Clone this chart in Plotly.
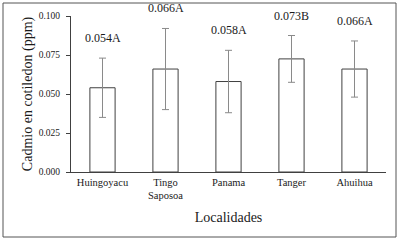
import plotly.graph_objects as go

categories = ["Huingoyacu", "Tingo<br>Saposoa", "Panama", "Tanger", "Ahuihua"]
means = [0.054, 0.066, 0.058, 0.0725, 0.066]
errors = [0.019, 0.026, 0.020, 0.015, 0.018]
labels = ["0.054A", "0.066A", "0.058A", "0.073B", "0.066A"]
y_ticks = [0.0, 0.025, 0.05, 0.075, 0.1]
y_ticktext = ["0.000", "0.025", "0.050", "0.075", "0.100"]

FONT = "Liberation Serif"
AXIS = "#404040"
TXT = "#1a1a1a"

fig = go.Figure()
fig.add_trace(go.Bar(
    x=categories, y=means,
    width=0.4,
    marker=dict(color="white", line=dict(color=AXIS, width=1)),
    error_y=dict(type="data", array=errors, visible=True,
                 color="#8a8a8a", thickness=1, width=3.5),
    showlegend=False,
    hoverinfo="skip",
))

for c, m, e, t in zip(categories, means, errors, labels):
    fig.add_annotation(x=c, y=m + e, text=t, showarrow=False,
                       yanchor="bottom", yshift=11,
                       font=dict(family=FONT, size=12, color=TXT))

# outer frame
fig.add_shape(type="rect", xref="paper", yref="paper",
              x0=(3 - 71) / 315, x1=(396 - 71) / 315,
              y0=(172 - 237) / 156, y1=(172 - 3) / 156,
              line=dict(color="#555555", width=1), fillcolor="rgba(0,0,0,0)")

fig.update_layout(
    width=401, height=241,
    margin=dict(l=71, r=15, t=16, b=69, autoexpand=False),
    paper_bgcolor="white", plot_bgcolor="white",
    font=dict(family=FONT, color=TXT),
    xaxis=dict(
        showline=True, linecolor=AXIS, linewidth=1, ticks="",
        tickfont=dict(family=FONT, size=10.5, color=TXT),
        title=dict(text="Localidades", font=dict(family=FONT, size=14, color=TXT), standoff=11),
        showgrid=False, automargin=False,
    ),
    yaxis=dict(
        range=[0, 0.1], tickvals=y_ticks, ticktext=y_ticktext,
        showline=True, linecolor=AXIS, linewidth=1, ticks="outside",
        ticklen=4, tickcolor=AXIS, ticklabelstandoff=4,
        tickfont=dict(family=FONT, size=9.5, color=TXT),
        title=dict(text="Cadmio en cotiledon (ppm)", font=dict(family=FONT, size=14, color=TXT), standoff=2),
        showgrid=False, zeroline=False, automargin=False,
    ),
)

fig.write_html("out.html", config={"displayModeBar": False},
               post_script="document.body.style.margin='0';document.body.style.overflow='hidden';")
